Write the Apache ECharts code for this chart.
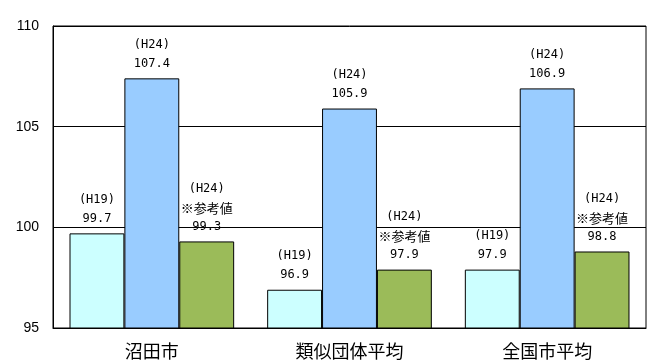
<!DOCTYPE html>
<html>
<head>
<meta charset="utf-8">
<script src="https://cdn.jsdelivr.net/npm/echarts@6/dist/echarts.min.js"></script>
<style>html,body{margin:0;padding:0;background:#fff}#c{width:651px;height:363px}</style>
</head>
<body>
<div id="c"></div>
<script>
const categories = ['沼田市', '類似団体平均', '全国市平均'];
const h19Values = [99.7, 96.9, 97.9];
const h24Values = [107.4, 105.9, 106.9];
const h24RefValues = [99.3, 97.9, 98.8];
const yTicks = [95, 100, 105, 110];

const labelFont = "'DejaVu Sans Mono', 'Noto Sans CJK JP', monospace";
function lbl(lines) {
  return {
    show: true, position: 'top', distance: 5, color: '#000',
    fontFamily: labelFont, fontSize: 12, lineHeight: 19,
    rich: { j: { fontFamily: "'Noto Sans CJK JP', sans-serif", fontSize: 13, lineHeight: 19, color: '#000' } },
    formatter: p => lines.concat([p.value.toFixed(1)]).join('\n')
  };
}
const border = { borderColor: '#000', borderWidth: 1 };
const chart = echarts.init(document.getElementById('c'));
chart.setOption({
  animation: false,
  backgroundColor: '#fff',
  grid: { left: 53, right: 5, top: 26, bottom: 35, show: true, borderColor: '#000', borderWidth: 1, backgroundColor: 'transparent' },
  xAxis: {
    type: 'category', data: categories,
    axisLine: { show: true, lineStyle: { color: '#000' } },
    axisTick: { show: false },
    axisLabel: { color: '#000', fontSize: 18, margin: 14, fontFamily: "'Noto Sans CJK JP', sans-serif" }
  },
  yAxis: {
    type: 'value', min: yTicks[0], max: yTicks[yTicks.length - 1], interval: 5,
    axisLine: { show: true, lineStyle: { color: '#000' } },
    axisTick: { show: false },
    splitLine: { show: true, lineStyle: { color: '#000', width: 1 } },
    axisLabel: { color: '#000', fontSize: 14, margin: 14, fontFamily: "'Liberation Sans', sans-serif" }
  },
  series: [
    { type: 'bar', name: 'H19', data: h19Values, barGap: '0%', barCategoryGap: '16.7%',
      itemStyle: Object.assign({ color: '#CCFFFF' }, border), label: lbl(['(H19)']) },
    { type: 'bar', name: 'H24', data: h24Values, barGap: '0%', barCategoryGap: '16.7%',
      itemStyle: Object.assign({ color: '#99CCFF' }, border), label: lbl(['(H24)']) },
    { type: 'bar', name: 'H24参考値', data: h24RefValues, barGap: '0%', barCategoryGap: '16.7%',
      itemStyle: Object.assign({ color: '#9BBB59' }, border), label: lbl(['(H24)', '{j|※参考値}']) }
  ]
});
</script>
</body>
</html>
